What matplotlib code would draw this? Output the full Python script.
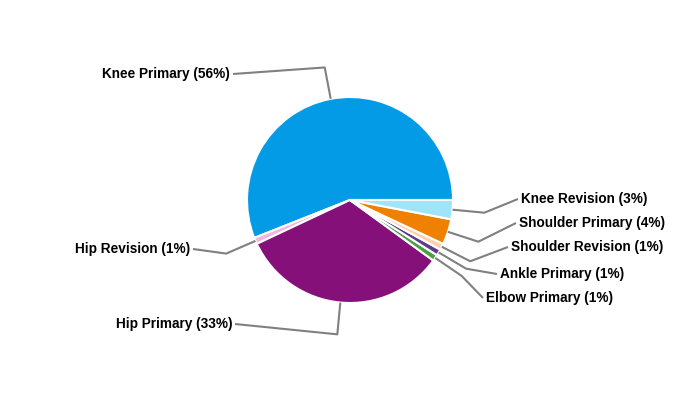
import numpy as np
import matplotlib.pyplot as plt

# procedure share, counter-clockwise from 3 o'clock
categories = ['Knee Primary', 'Hip Revision', 'Hip Primary', 'Elbow Primary',
              'Ankle Primary', 'Shoulder Revision', 'Shoulder Primary', 'Knee Revision']
shares = [56, 1, 33, 1, 1, 1, 4, 3]
colours = ['#039BE5', '#F4B4E0', '#86107A', '#4CA040',
           '#5C3A8C', '#FFD0B0', '#F08000', '#A0E4FA']

# where each label line ends (pixels, y from top) and which side the text sits
label_x = [233, 193, 235, 483, 497, 508, 516, 518]
label_y = [74, 249, 324, 298, 274, 247, 223, 199]
label_side = ['right', 'right', 'right', 'left', 'left', 'left', 'left', 'left']

cx, cy, R = 350, 200, 103

fig = plt.figure(figsize=(7, 4), dpi=100)
ax = fig.add_axes([0, 0, 1, 1])

wedges, _ = ax.pie(shares, colors=colours, center=(cx, cy), radius=R,
                   startangle=0, counterclock=False,
                   wedgeprops=dict(edgecolor='white', linewidth=1.5))
ax.set_xlim(0, 700)
ax.set_ylim(400, 0)
ax.axis('off')

for w, name, val, lx, ly, side in zip(wedges, categories, shares,
                                      label_x, label_y, label_side):
    mid = np.deg2rad((w.theta1 + w.theta2) / 2)
    p0 = (cx + R * np.cos(mid), cy + R * np.sin(mid))
    p1 = (cx + 1.31 * R * np.cos(mid), cy + 1.31 * R * np.sin(mid))
    ax.plot([p0[0], p1[0], lx], [p0[1], p1[1], ly], color='#808080', lw=1.5,
            solid_capstyle='butt')
    dx = -3 if side == 'right' else 3
    ax.text(lx + dx, ly, f'{name} ({val}%)', ha=side, va='center',
            fontsize=9.8, fontweight='bold', family='Liberation Sans', color='black')

fig.savefig('out.png', dpi=100)
